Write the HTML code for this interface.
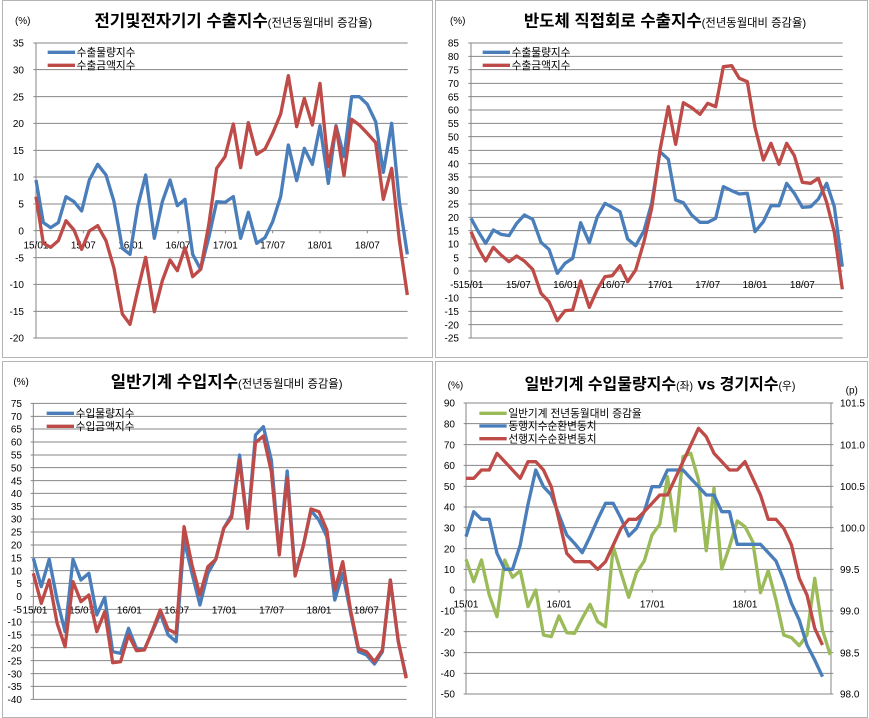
<!DOCTYPE html>
<html><head><meta charset="utf-8"><style>
html,body{margin:0;padding:0;background:#fff;}
svg{display:block;}
text{font-family:"Liberation Sans","Noto Sans CJK KR","NanumGothic",sans-serif;fill:#000;}
.t{font-size:30px;}
.g{stroke:#868686;stroke-width:3;}
.l{fill:none;stroke-width:10;stroke-linejoin:round;}
.b{stroke:#4a7ebb;}.r{stroke:#be4b48;}.gr{stroke:#9bbb59;}
</style></head><body>
<svg width="869" height="718" viewBox="0 0 869 718" xmlns="http://www.w3.org/2000/svg">
<rect width="869" height="718" fill="#fff"/>
<g fill="none" stroke="#b4b4b4" stroke-width="1">
<rect x="2.5" y="0.5" width="430" height="357"/>
<rect x="435.5" y="0.5" width="432" height="357"/>
<rect x="2.5" y="361.5" width="430" height="356"/>
<rect x="435.5" y="361.5" width="432" height="356"/>
</g>

<!-- Panel 1 -->
<g transform="scale(0.33333)">
<text x="45" y="72" class="t" font-size="28">(%)</text>
<text x="700" y="80" text-anchor="middle" font-size="50" font-weight="bold">전기및전자기기 수출지수<tspan font-size="34" font-weight="normal">(전년동월대비 증감율)</tspan></text>
<g class="g">
<line x1="100" y1="129" x2="1223" y2="129"/><line x1="100" y1="209" x2="1223" y2="209"/><line x1="100" y1="290" x2="1223" y2="290"/><line x1="100" y1="370" x2="1223" y2="370"/><line x1="100" y1="451" x2="1223" y2="451"/><line x1="100" y1="531" x2="1223" y2="531"/><line x1="100" y1="612" x2="1223" y2="612"/><line x1="100" y1="692" x2="1223" y2="692"/><line x1="100" y1="773" x2="1223" y2="773"/><line x1="100" y1="853" x2="1223" y2="853"/><line x1="100" y1="934" x2="1223" y2="934"/><line x1="100" y1="1014" x2="1223" y2="1014"/>
<line x1="108" y1="129" x2="108" y2="1014"/>
<line x1="250" y1="692" x2="250" y2="700"/><line x1="392" y1="692" x2="392" y2="700"/><line x1="534" y1="692" x2="534" y2="700"/><line x1="676" y1="692" x2="676" y2="700"/><line x1="818" y1="692" x2="818" y2="700"/><line x1="960" y1="692" x2="960" y2="700"/><line x1="1102" y1="692" x2="1102" y2="700"/>
</g>
<g class="t" text-anchor="end">
<text x="72" y="140">35</text><text x="72" y="220">30</text><text x="72" y="301">25</text><text x="72" y="381">20</text><text x="72" y="462">15</text><text x="72" y="542">10</text><text x="72" y="623">5</text><text x="72" y="703">0</text><text x="72" y="784">-5</text><text x="72" y="864">-10</text><text x="72" y="945">-15</text><text x="72" y="1025">-20</text>
</g>
<g class="t" text-anchor="middle">
<text x="108" y="745">15/01</text><text x="250" y="745">15/07</text><text x="392" y="745">16/01</text><text x="534" y="745">16/07</text><text x="676" y="745">17/01</text><text x="818" y="745">17/07</text><text x="960" y="745">18/01</text><text x="1102" y="745">18/07</text>
</g>
<polyline class="l b" points="108,540 130,668 152,683 175,668 198,590 222,605 245,633 268,540 293,493 318,525 342,605 367,745 390,763 413,620 437,525 463,715 487,605 510,540 532,617 555,598 578,763 602,808 627,710 650,605 675,607 700,590 722,715 745,637 770,730 795,713 818,665 842,590 865,435 890,542 913,445 937,493 960,377 985,550 1008,377 1032,470 1055,290 1078,290 1102,313 1127,365 1150,517 1175,370 1198,605 1222,763"/>
<polyline class="l r" points="108,590 130,730 152,742 175,722 198,662 222,690 245,748 268,693 293,677 318,722 342,805 367,942 390,973 413,872 437,772 463,935 487,842 510,780 532,812 555,743 578,830 602,808 627,670 650,505 675,470 700,372 722,503 745,368 770,463 795,447 818,400 842,342 865,227 890,380 913,295 937,375 960,250 985,500 1008,380 1032,527 1055,358 1078,375 1102,400 1127,428 1150,598 1175,505 1198,720 1222,885"/>
<line x1="143" y1="157" x2="225" y2="157" class="l b"/><line x1="143" y1="196" x2="225" y2="196" class="l r"/>
<text x="230" y="168" font-size="32">수출물량지수</text><text x="230" y="207" font-size="32">수출금액지수</text>
</g>

<!-- Panel 2 -->
<g transform="translate(435,0) scale(0.33333)">
<text x="45" y="72" class="t" font-size="28">(%)</text>
<text x="690" y="80" text-anchor="middle" font-size="50" font-weight="bold">반도체 직접회로 수출지수<tspan font-size="34" font-weight="normal">(전년동월대비 증감율)</tspan></text>
<g class="g">
<line x1="100" y1="129" x2="1223" y2="129"/><line x1="100" y1="169" x2="1223" y2="169"/><line x1="100" y1="209" x2="1223" y2="209"/><line x1="100" y1="250" x2="1223" y2="250"/><line x1="100" y1="290" x2="1223" y2="290"/><line x1="100" y1="330" x2="1223" y2="330"/><line x1="100" y1="370" x2="1223" y2="370"/><line x1="100" y1="410" x2="1223" y2="410"/><line x1="100" y1="451" x2="1223" y2="451"/><line x1="100" y1="491" x2="1223" y2="491"/><line x1="100" y1="531" x2="1223" y2="531"/><line x1="100" y1="571" x2="1223" y2="571"/><line x1="100" y1="612" x2="1223" y2="612"/><line x1="100" y1="652" x2="1223" y2="652"/><line x1="100" y1="692" x2="1223" y2="692"/><line x1="100" y1="732" x2="1223" y2="732"/><line x1="100" y1="773" x2="1223" y2="773"/><line x1="100" y1="813" x2="1223" y2="813"/><line x1="100" y1="853" x2="1223" y2="853"/><line x1="100" y1="893" x2="1223" y2="893"/><line x1="100" y1="934" x2="1223" y2="934"/><line x1="100" y1="974" x2="1223" y2="974"/><line x1="100" y1="1014" x2="1223" y2="1014"/>
<line x1="108" y1="129" x2="108" y2="1014"/>
</g>
<g class="t" text-anchor="end">
<text x="72" y="140">85</text><text x="72" y="180">80</text><text x="72" y="220">75</text><text x="72" y="261">70</text><text x="72" y="301">65</text><text x="72" y="341">60</text><text x="72" y="381">55</text><text x="72" y="421">50</text><text x="72" y="462">45</text><text x="72" y="502">40</text><text x="72" y="542">35</text><text x="72" y="582">30</text><text x="72" y="623">25</text><text x="72" y="663">20</text><text x="72" y="703">15</text><text x="72" y="743">10</text><text x="72" y="784">5</text><text x="72" y="824">0</text><text x="72" y="864">-5</text><text x="72" y="904">-10</text><text x="72" y="945">-15</text><text x="72" y="985">-20</text><text x="72" y="1025">-25</text>
</g>
<g class="t" text-anchor="middle">
<text x="108" y="864">15/01</text><text x="250" y="864">15/07</text><text x="392" y="864">16/01</text><text x="534" y="864">16/07</text><text x="676" y="864">17/01</text><text x="818" y="864">17/07</text><text x="960" y="864">18/01</text><text x="1102" y="864">18/07</text>
</g>
<polyline class="l b" points="108,655 130,695 152,730 175,690 198,703 222,707 245,670 268,645 293,658 318,727 342,748 367,820 390,790 413,775 437,668 463,728 487,650 510,610 532,622 555,635 578,717 602,737 627,692 650,610 675,455 700,478 722,600 745,608 770,645 795,667 818,667 842,655 865,560 890,572 913,582 937,580 960,695 985,665 1008,617 1032,617 1055,550 1078,580 1102,622 1127,620 1150,597 1175,550 1198,620 1222,800"/>
<polyline class="l r" points="108,695 130,745 152,783 175,742 198,765 222,785 245,768 268,783 293,808 318,880 342,905 367,962 390,932 413,930 437,843 463,922 487,868 510,830 532,827 555,797 578,845 602,810 627,725 650,625 675,450 700,320 722,433 745,308 770,323 795,343 818,310 842,320 865,200 890,197 913,235 937,245 960,382 985,480 1008,430 1032,493 1055,430 1078,467 1102,547 1127,550 1150,535 1175,607 1198,697 1222,868"/>
<line x1="143" y1="157" x2="225" y2="157" class="l b"/><line x1="143" y1="196" x2="225" y2="196" class="l r"/>
<text x="230" y="168" font-size="32">수출물량지수</text><text x="230" y="207" font-size="32">수출금액지수</text>
</g>

<!-- Panel 3 -->
<g transform="translate(0,360) scale(0.33333)">
<text x="40" y="75" class="t" font-size="28">(%)</text>
<text x="680" y="83" text-anchor="middle" font-size="50" font-weight="bold">일반기계 수입지수<tspan font-size="34" font-weight="normal">(전년동월대비 증감율)</tspan></text>
<g class="g">
<line x1="92" y1="130" x2="1220" y2="130"/><line x1="92" y1="169" x2="1220" y2="169"/><line x1="92" y1="207" x2="1220" y2="207"/><line x1="92" y1="246" x2="1220" y2="246"/><line x1="92" y1="285" x2="1220" y2="285"/><line x1="92" y1="323" x2="1220" y2="323"/><line x1="92" y1="362" x2="1220" y2="362"/><line x1="92" y1="400" x2="1220" y2="400"/><line x1="92" y1="439" x2="1220" y2="439"/><line x1="92" y1="477" x2="1220" y2="477"/><line x1="92" y1="516" x2="1220" y2="516"/><line x1="92" y1="555" x2="1220" y2="555"/><line x1="92" y1="593" x2="1220" y2="593"/><line x1="92" y1="632" x2="1220" y2="632"/><line x1="92" y1="670" x2="1220" y2="670"/><line x1="92" y1="709" x2="1220" y2="709"/><line x1="92" y1="748" x2="1220" y2="748"/><line x1="92" y1="786" x2="1220" y2="786"/><line x1="92" y1="825" x2="1220" y2="825"/><line x1="92" y1="863" x2="1220" y2="863"/><line x1="92" y1="902" x2="1220" y2="902"/><line x1="92" y1="941" x2="1220" y2="941"/><line x1="92" y1="979" x2="1220" y2="979"/><line x1="92" y1="1018" x2="1220" y2="1018"/>
<line x1="100" y1="130" x2="100" y2="1018"/>
</g>
<g class="t" text-anchor="end">
<text x="66" y="141">75</text><text x="66" y="180">70</text><text x="66" y="218">65</text><text x="66" y="257">60</text><text x="66" y="296">55</text><text x="66" y="334">50</text><text x="66" y="373">45</text><text x="66" y="411">40</text><text x="66" y="450">35</text><text x="66" y="488">30</text><text x="66" y="527">25</text><text x="66" y="566">20</text><text x="66" y="604">15</text><text x="66" y="643">10</text><text x="66" y="681">5</text><text x="66" y="720">0</text><text x="66" y="759">-5</text><text x="66" y="797">-10</text><text x="66" y="836">-15</text><text x="66" y="874">-20</text><text x="66" y="913">-25</text><text x="66" y="952">-30</text><text x="66" y="990">-35</text><text x="66" y="1029">-40</text>
</g>
<g class="t" text-anchor="middle">
<text x="105" y="760">15/01</text><text x="245" y="760">15/07</text><text x="388" y="760">16/01</text><text x="530" y="760">16/07</text><text x="673" y="760">17/01</text><text x="815" y="760">17/07</text><text x="957" y="760">18/01</text><text x="1099" y="760">18/07</text>
</g>
<polyline class="l b" points="100,595 123.8,680 147.6,598 171.4,720 195.2,815 219,598 242.8,660 266.6,640 290.4,765 314.2,712 338,875 361.8,880 385.6,805 409.4,865 433.2,868 457,815 480.8,760 504.6,825 528.4,845 552.2,540 576,640 599.8,735 623.6,640 647.4,598 671.2,505 695,465 718.8,285 742.6,500 766.4,225 790.2,200 814,300 837.8,580 861.6,333 885.4,640 909.2,560 933,452 956.8,480 980.6,530 1004.4,720 1028.2,640 1052,760 1075.8,875 1099.6,885 1123.4,912 1147.2,875 1171,660 1194.8,845 1218.6,950"/>
<polyline class="l r" points="100,640 123.8,730 147.6,660 171.4,790 195.2,860 219,665 242.8,725 266.6,705 290.4,815 314.2,755 338,908 361.8,905 385.6,825 409.4,872 433.2,870 457,812 480.8,750 504.6,808 528.4,820 552.2,500 576,615 599.8,705 623.6,620 647.4,598 671.2,505 695,472 718.8,300 742.6,505 766.4,248 790.2,228 814,335 837.8,585 861.6,355 885.4,648 909.2,560 933,447 956.8,455 980.6,510 1004.4,690 1028.2,605 1052,752 1075.8,867 1099.6,875 1123.4,905 1147.2,870 1171,660 1194.8,843 1218.6,955"/>
<line x1="140" y1="160" x2="222" y2="160" class="l b"/><line x1="140" y1="199" x2="222" y2="199" class="l r"/>
<text x="227" y="171" font-size="32">수입물량지수</text><text x="227" y="210" font-size="32">수입금액지수</text>
</g>

<!-- Panel 4 -->
<g transform="translate(435,360) scale(0.33333)">
<text x="38" y="85" class="t" font-size="28">(%)</text>
<text x="1232" y="100" class="t" font-size="28">(p)</text>
<text x="675" y="88" text-anchor="middle" font-size="48" font-weight="bold">일반기계 수입물량지수<tspan font-size="32" font-weight="normal">(좌)</tspan> vs 경기지수<tspan font-size="32" font-weight="normal">(우)</tspan></text>
<g class="g">
<line x1="86" y1="129" x2="1195" y2="129"/><line x1="86" y1="191" x2="1195" y2="191"/><line x1="86" y1="254" x2="1195" y2="254"/><line x1="86" y1="316" x2="1195" y2="316"/><line x1="86" y1="379" x2="1195" y2="379"/><line x1="86" y1="441" x2="1195" y2="441"/><line x1="86" y1="503" x2="1195" y2="503"/><line x1="86" y1="566" x2="1195" y2="566"/><line x1="86" y1="628" x2="1195" y2="628"/><line x1="86" y1="690" x2="1195" y2="690"/><line x1="86" y1="753" x2="1195" y2="753"/><line x1="86" y1="815" x2="1195" y2="815"/><line x1="86" y1="878" x2="1195" y2="878"/><line x1="86" y1="940" x2="1195" y2="940"/><line x1="86" y1="1002" x2="1195" y2="1002"/>
<line x1="93" y1="129" x2="93" y2="1002"/><line x1="1188" y1="129" x2="1188" y2="1002"/>
<line x1="372" y1="690" x2="372" y2="698"/><line x1="652" y1="690" x2="652" y2="698"/><line x1="930" y1="690" x2="930" y2="698"/>
</g>
<g class="t" text-anchor="end">
<text x="60" y="140">90</text><text x="60" y="202">80</text><text x="60" y="265">70</text><text x="60" y="327">60</text><text x="60" y="390">50</text><text x="60" y="452">40</text><text x="60" y="514">30</text><text x="60" y="577">20</text><text x="60" y="639">10</text><text x="60" y="701">0</text><text x="60" y="764">-10</text><text x="60" y="826">-20</text><text x="60" y="889">-30</text><text x="60" y="951">-40</text><text x="60" y="1013">-50</text>
</g>
<g class="t">
<text x="1215" y="140">101.5</text><text x="1215" y="265">101.0</text><text x="1215" y="390">100.5</text><text x="1215" y="514">100.0</text><text x="1215" y="639">99.5</text><text x="1215" y="764">99.0</text><text x="1215" y="889">98.5</text><text x="1215" y="1013">98.0</text>
</g>
<g class="t" text-anchor="middle">
<text x="93" y="742">15/01</text><text x="372" y="742">16/01</text><text x="652" y="742">17/01</text><text x="930" y="742">18/01</text>
</g>
<polyline class="l gr" points="93,598 116.25,665 139.5,600 162.75,705 186,770 209.25,600 232.5,652 255.75,632 279,740 302.25,690 325.5,825 348.75,830 372,768 395.25,818 418.5,820 441.75,775 465,733 488.25,785 511.5,800 534.75,560 558,638 581.25,712 604.5,638 627.75,603 651,525 674.25,493 697.5,350 720.75,513 744,290 767.25,280 790.5,360 813.75,572 837,385 860.25,627 883.5,560 906.75,483 930,500 953.25,545 976.5,698 999.75,632 1023,720 1046.25,825 1069.5,833 1092.75,857 1116,825 1139.25,655 1162.5,810 1185.75,885"/>
<polyline class="l b" points="93,530 116.25,455 139.5,478 162.75,478 186,580 209.25,628 232.5,628 255.75,555 279,433 302.25,330 325.5,380 348.75,405 372,465 395.25,525 418.5,550 441.75,578 465,530 488.25,478 511.5,430 534.75,430 558,475 581.25,528 604.5,505 627.75,455 651,380 674.25,380 697.5,330 720.75,330 744,330 767.25,355 790.5,380 813.75,405 837,405 860.25,455 883.5,455 906.75,553 930,553 953.25,553 976.5,553 999.75,578 1023,603 1046.25,660 1069.5,730 1092.75,780 1116,855 1139.25,900 1162.5,950"/>
<polyline class="l r" points="93,355 116.25,355 139.5,330 162.75,330 186,280 209.25,305 232.5,330 255.75,355 279,305 302.25,305 325.5,330 348.75,380 372,480 395.25,580 418.5,605 441.75,605 465,605 488.25,628 511.5,605 534.75,555 558,505 581.25,478 604.5,478 627.75,455 651,430 674.25,405 697.5,405 720.75,355 744,305 767.25,255 790.5,205 813.75,230 837,280 860.25,305 883.5,330 906.75,330 930,305 953.25,355 976.5,405 999.75,478 1023,478 1046.25,505 1069.5,555 1092.75,655 1116,705 1139.25,805 1162.5,855"/>
<line x1="133" y1="160" x2="215" y2="160" class="l gr"/><line x1="133" y1="198" x2="215" y2="198" class="l b"/><line x1="133" y1="236" x2="215" y2="236" class="l r"/>
<text x="220" y="171" font-size="32">일반기계 전년동월대비 증감율</text><text x="220" y="209" font-size="32">동행지수순환변동치</text><text x="220" y="247" font-size="32">선행지수순환변동치</text>
</g>
</svg>
</body></html>
